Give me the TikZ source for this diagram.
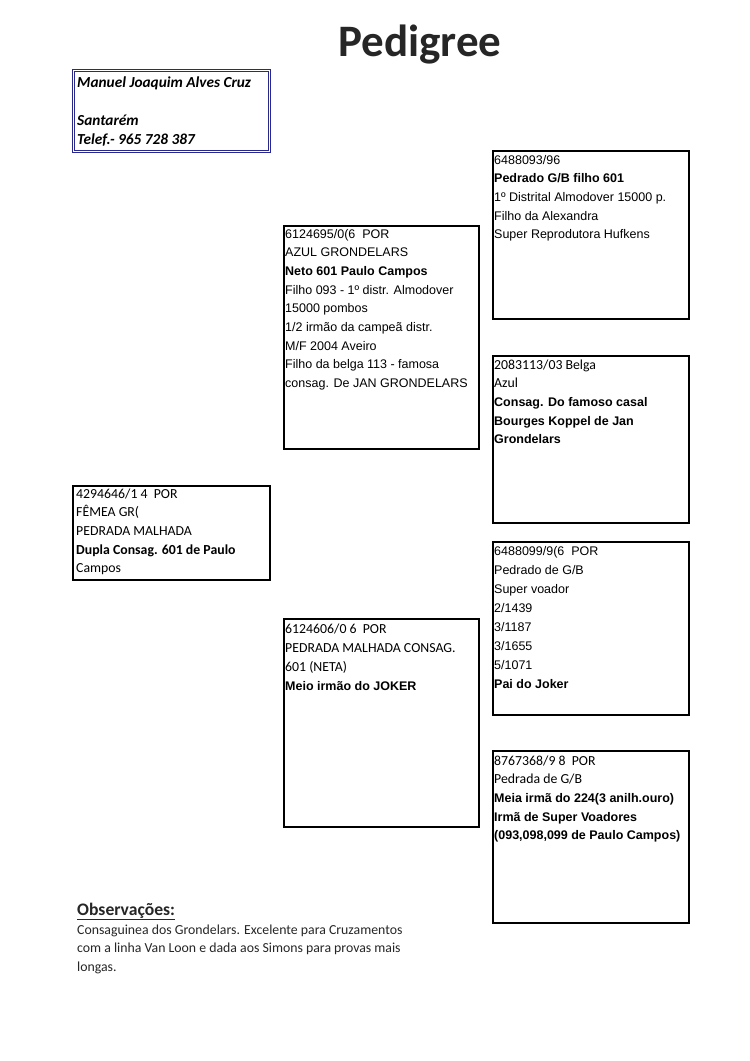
\documentclass[tikz,border=0pt]{standalone}
\usepackage{fontspec}
\setmainfont{Carlito}
\newfontfamily\arialf{Liberation Sans}
\newfontfamily\calif{Carlito}
\definecolor{ownblue}{RGB}{40,40,140}
\definecolor{titlegray}{RGB}{38,38,38}
\newcommand{\toplines}[1]{\parbox[t]{380pt}{\raggedright #1}}
\tikzset{
  pbox/.style={draw=black, line width=2.4pt, rectangle, anchor=north west, inner sep=0pt},
  ptext/.style={anchor=base west, inner sep=0pt,
     font=\arialf\fontsize{12.5}{18.7}\selectfont},
  owntext/.style={anchor=base west, inner sep=0pt,
     font=\calif\bfseries\itshape\fontsize{15.3}{19}\selectfont},
}
\begin{document}
\begin{tikzpicture}[x=1pt,y=-1pt]
\fill[white] (0,0) rectangle (750,1061);
\useasboundingbox (0,0) rectangle (750,1061);

\node[text=titlegray, font=\calif\bfseries\fontsize{45}{50}\selectfont] (title) at (420,45) {Pedigree};

% owner
\node[draw=ownblue, double, double distance=1.8pt, line width=1pt, rectangle, anchor=north west,
  minimum width=196pt, minimum height=81pt, inner sep=0pt] (own) at (73,70) {};
\node[owntext] (owntxt) at (77,87) {\toplines{Manuel Joaquim Alves Cruz\\[19pt]Santar\'em\\Telef.- 965 728 387}};

% boxes
\node[pbox, minimum width=195pt, minimum height=223pt] (A) at (283,225) {};
\node[pbox, minimum width=196pt, minimum height=168pt] (B) at (492,150) {};
\node[pbox, minimum width=196pt, minimum height=167pt] (C) at (492,355) {};
\node[pbox, minimum width=197pt, minimum height=94pt] (D) at (72,485) {};
\node[pbox, minimum width=195pt, minimum height=208pt] (E) at (283,618) {};
\node[pbox, minimum width=196pt, minimum height=173pt] (F) at (492,541) {};
\node[pbox, minimum width=196pt, minimum height=172pt] (G) at (492,750) {};

\node[ptext] (Atxt) at (285,238) {\toplines{6124695/0(6\ \ POR\\AZUL GRONDELARS\\\textbf{Neto 601 Paulo Campos}\\Filho 093 - 1º distr. Almodover\\15000 pombos\\1/2 irmão da campeã distr.\\M/F 2004 Aveiro\\Filho da belga 113 - famosa\\consag. De JAN GRONDELARS}};

\node[ptext] (Btxt) at (494,164) {\toplines{6488093/96\\\textbf{Pedrado G/B filho 601}\\1º Distrital Almodover 15000 p.\\Filho da Alexandra\\Super Reprodutora Hufkens}};

\node[ptext] (Ctxt) at (494,369) {\toplines{{\calif\fontsize{13.8}{18.7}\selectfont 2083113/03 Belga}\\{\calif\fontsize{13.8}{18.7}\selectfont Azul}\\\textbf{Consag. Do famoso casal}\\\textbf{Bourges Koppel de Jan}\\\textbf{Grondelars}}};

\node[ptext, font=\calif\fontsize{13.8}{18.7}\selectfont] (Dtxt) at (76,498) {\toplines{4294646/1 4\ \ POR\\FÊMEA GR(\\PEDRADA MALHADA\\\textbf{Dupla Consag. 601 de Paulo}\\Campos}};

\node[ptext, font=\calif\fontsize{13.8}{19.2}\selectfont] (Etxt) at (285,633) {\toplines{6124606/0 6\ \ POR\\PEDRADA MALHADA CONSAG.\\601 (NETA)\\{\arialf\bfseries\fontsize{12.5}{19.2}\selectfont Meio irmão do JOKER}}};

\node[ptext, font=\arialf\fontsize{12.5}{19}\selectfont] (Ftxt) at (494,555) {\toplines{6488099/9(6\ \ POR\\Pedrado de G/B\\Super voador\\2/1439\\3/1187\\3/1655\\5/1071\\\textbf{Pai do Joker}}};

\node[ptext] (Gtxt) at (494,765) {\toplines{{\calif\fontsize{13.8}{18.7}\selectfont 8767368/9 8\ \ POR}\\{\calif\fontsize{13.8}{18.7}\selectfont Pedrada de G/B}\\\textbf{Meia irmã do 224(3 anilh.ouro)}\\\textbf{Irmã de Super Voadores}\\\textbf{(093,098,099 de Paulo Campos)}}};

% observations
\node[anchor=base west, inner sep=0pt, text=titlegray, font=\calif\bfseries\fontsize{17.6}{20}\selectfont] (obs) at (77,915) {\underline{Observações:}};
\node[anchor=base west, inner sep=0pt, text=titlegray, font=\calif\fontsize{13.8}{18.7}\selectfont] (obstxt) at (77,934) {\toplines{Consaguinea dos Grondelars. Excelente para Cruzamentos\\com a linha Van Loon e dada aos Simons para provas mais\\longas.}};
\end{tikzpicture}
\end{document}
